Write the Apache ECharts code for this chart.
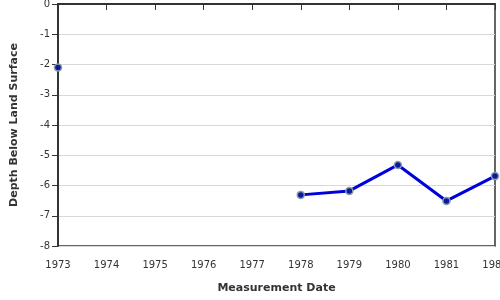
<!DOCTYPE html>
<html><head><meta charset="utf-8">
<script src="https://cdn.jsdelivr.net/npm/echarts@6/dist/echarts.min.js"></script>
<style>html,body{margin:0;padding:0;background:#fff}#c{width:500px;height:300px}</style>
</head><body><div id="c"></div>
<script>
const years = [1973, 1974, 1975, 1976, 1977, 1978, 1979, 1980, 1981, 1982];
const depths = [-2.1, null, null, null, null, -6.31, -6.18, -5.32, -6.51, -5.69];
const yTicks = [0, -1, -2, -3, -4, -5, -6, -7, -8];

const data = years.map((y, i) => [y, depths[i] === null ? '-' : depths[i]]);
const chart = echarts.init(document.getElementById('c'));
chart.setOption({
  animation: false,
  grid: {left: 58, right: 5, top: 4, bottom: 54, show: true, borderColor: '#333', borderWidth: 1.5,
    backgroundColor: 'transparent', containLabel: false, outerBoundsMode: 'none'},
  xAxis: {
    type: 'value', min: 1973, max: 1982, interval: 1,
    name: 'Measurement Date', nameLocation: 'middle', nameGap: 37,
    nameTextStyle: {fontFamily: 'DejaVu Sans', fontWeight: 'bold', fontSize: 11, color: '#333'},
    axisLine: {show: true, lineStyle: {color: '#333', width: 2}},
    axisTick: {show: true, length: 6, lineStyle: {color: '#333'}},
    axisLabel: {fontFamily: 'DejaVu Sans', fontSize: 10, color: '#333', formatter: v => String(v), margin: 14,
      hideOverlap: false, showMaxLabel: true},
    splitLine: {show: false}
  },
  yAxis: {
    type: 'value', min: -8, max: 0, interval: 1,
    name: 'Depth Below Land Surface', nameLocation: 'middle', nameGap: 38, nameRotate: 90,
    nameTextStyle: {fontFamily: 'DejaVu Sans', fontWeight: 'bold', fontSize: 11, color: '#333'},
    axisLine: {show: true, lineStyle: {color: '#333', width: 2}},
    axisTick: {show: true, length: 6, lineStyle: {color: '#333'}},
    axisLabel: {fontFamily: 'DejaVu Sans', fontSize: 10, color: '#333', margin: 8,
      formatter: v => yTicks.includes(v) ? String(v) : ''},
    splitLine: {show: true, lineStyle: {color: '#d8d8d8', width: 1}}
  },
  series: [{
    type: 'line', data: data, connectNulls: false,
    lineStyle: {color: '#0000dd', width: 3},
    symbol: 'circle', symbolSize: 7, showAllSymbol: true,
    itemStyle: {color: '#0a1a9a', borderColor: '#8a9aa8', borderWidth: 1.5},
    clip: false
  }]
});
</script></body></html>
